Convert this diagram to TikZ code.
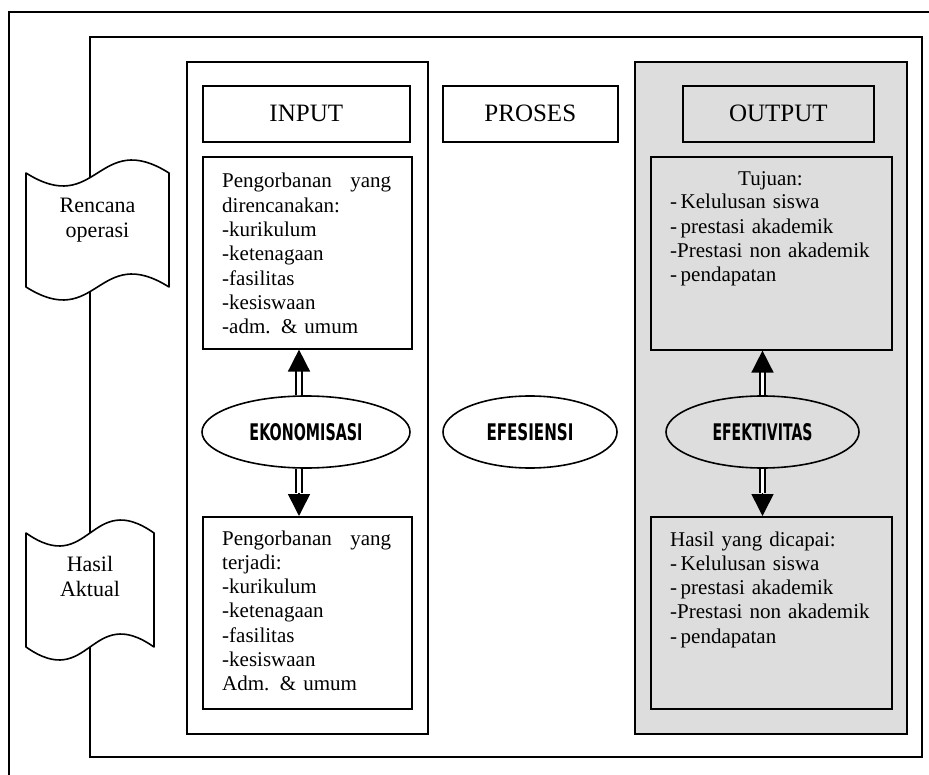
\documentclass[tikz,border=0pt]{standalone}
\usepackage{fontspec}
\usepackage{graphicx}
\setmainfont{Liberation Serif}
\newfontfamily\decofont{DejaVu Sans}
\usetikzlibrary{shapes.geometric,arrows.meta}
\definecolor{shade}{HTML}{DDDDDD}
\begin{document}
\begin{tikzpicture}[x=1pt,y=-1pt,
  lw/.style={line width=1.6pt},
  rbox/.style={draw, lw, anchor=north west, inner sep=0pt},
  hdr/.style={rbox, minimum height=56pt, font=\fontsize{25}{28}\selectfont},
  list/.style={anchor=base west, inner sep=0pt, text width=#1, align=left, font=\fontsize{21}{24.3}\selectfont},
  single/.style={anchor=base, inner sep=0pt, font=\fontsize{21}{24.3}\selectfont},
  oval/.style={draw, lw, ellipse, minimum height=72pt, inner sep=0pt},
  shaft/.style={line width=2pt, double=white, double distance=3.5pt},
  tip/.style={lw, -{Triangle[length=22pt,width=22pt]}},
  doc/.style={draw, lw, fill=white, line join=round},
  doctext/.style={anchor=base, inner sep=0pt, align=center, text width=140pt, font=\fontsize{22}{25}\selectfont}
]
\useasboundingbox (0,0) rectangle (929,775);
\begin{scope}
  \clip (0,0) rectangle (929,775);
  \draw[lw] (9,790) -- (9,12) -- (945,12);
\end{scope}
\draw[lw] (90,37) rectangle (922,757);

% documents on the left
\draw[doc] (26,173) .. controls (97.5,218) and (97.5,128) .. (169,173) -- (169,287)
  .. controls (97.5,242) and (97.5,332) .. (26,287) -- cycle;
\node[doctext] (d1) at (97.5,213) {Rencana\\operasi};
\draw[doc] (26,533) .. controls (90,578) and (90,488) .. (154,533) -- (154,647)
  .. controls (90,602) and (90,692) .. (26,647) -- cycle;
\node[doctext] (d2) at (90,571) {Hasil\\Aktual};

% columns
\node[rbox, minimum width=241pt, minimum height=672pt] (incol) at (186,61) {};
\node[rbox, fill=shade, minimum width=272pt, minimum height=672pt] (outcol) at (634,61) {};

% headers
\node[hdr, minimum width=207pt] (hin) at (202,85) {INPUT};
\node[hdr, minimum width=175pt] (hpr) at (442,85) {PROSES};
\node[hdr, minimum width=191pt] (hout) at (682,85) {OUTPUT};

% content boxes
\node[rbox, minimum width=209pt, minimum height=192pt] (ib1) at (202,156) {};
\node[rbox, minimum width=209pt, minimum height=192pt] (ib2) at (202,516) {};
\node[rbox, minimum width=241pt, minimum height=193pt] (ob1) at (650,156) {};
\node[rbox, minimum width=241pt, minimum height=192pt] (ob2) at (650,516) {};

\node[list=169pt] (l1) at (222,188) {Pengorbanan\hfill yang\\direncanakan:\\-kurikulum\\-ketenagaan\\-fasilitas\\-kesiswaan\\-adm. \& umum};
\node[list=169pt] (l2) at (222,545) {Pengorbanan\hfill yang\\terjadi:\\-kurikulum\\-ketenagaan\\-fasilitas\\-kesiswaan\\Adm. \& umum};
\node[single] (l3h) at (770.5,186) {Tujuan:};
\node[list=215pt] (l3) at (670,209) {-\,Kelulusan siswa\\-\,prestasi akademik\\-Prestasi non akademik\\-\,pendapatan};
\node[list=215pt] (l4) at (670,546) {Hasil yang dicapai:\\-\,Kelulusan siswa\\-\,prestasi akademik\\-Prestasi non akademik\\-\,pendapatan};

% ellipses
\node[oval, fill=white, minimum width=208pt] (e1) at (306,432) {\resizebox{113pt}{17pt}{\decofont\bfseries EKONOMISASI}};
\node[oval, fill=white, minimum width=174pt] (e2) at (530,432) {\resizebox{87pt}{17pt}{\decofont\bfseries EFESIENSI}};
\node[oval, minimum width=193pt] (e3) at (762.5,432) {\resizebox{100pt}{17pt}{\decofont\bfseries EFEKTIVITAS}};

% arrows, input side
\coordinate (a1) at ([xshift=-7pt,yshift=24pt]e1.north);
\draw[shaft] ([xshift=-7pt]e1.north) -- (a1);
\draw[tip] (a1) -- (a1 |- ib1.south);
\coordinate (a2) at ([xshift=-7pt,yshift=-24pt]e1.south);
\draw[shaft] ([xshift=-7pt]e1.south) -- (a2);
\draw[tip] (a2) -- (a2 |- ib2.north);

% arrows, output side
\coordinate (a3) at ([yshift=24pt]e3.north);
\draw[shaft] (e3.north) -- (a3);
\draw[tip] (a3) -- (a3 |- ob1.south);
\coordinate (a4) at ([yshift=-24pt]e3.south);
\draw[shaft] (e3.south) -- (a4);
\draw[tip] (a4) -- (a4 |- ob2.north);
\end{tikzpicture}
\end{document}
